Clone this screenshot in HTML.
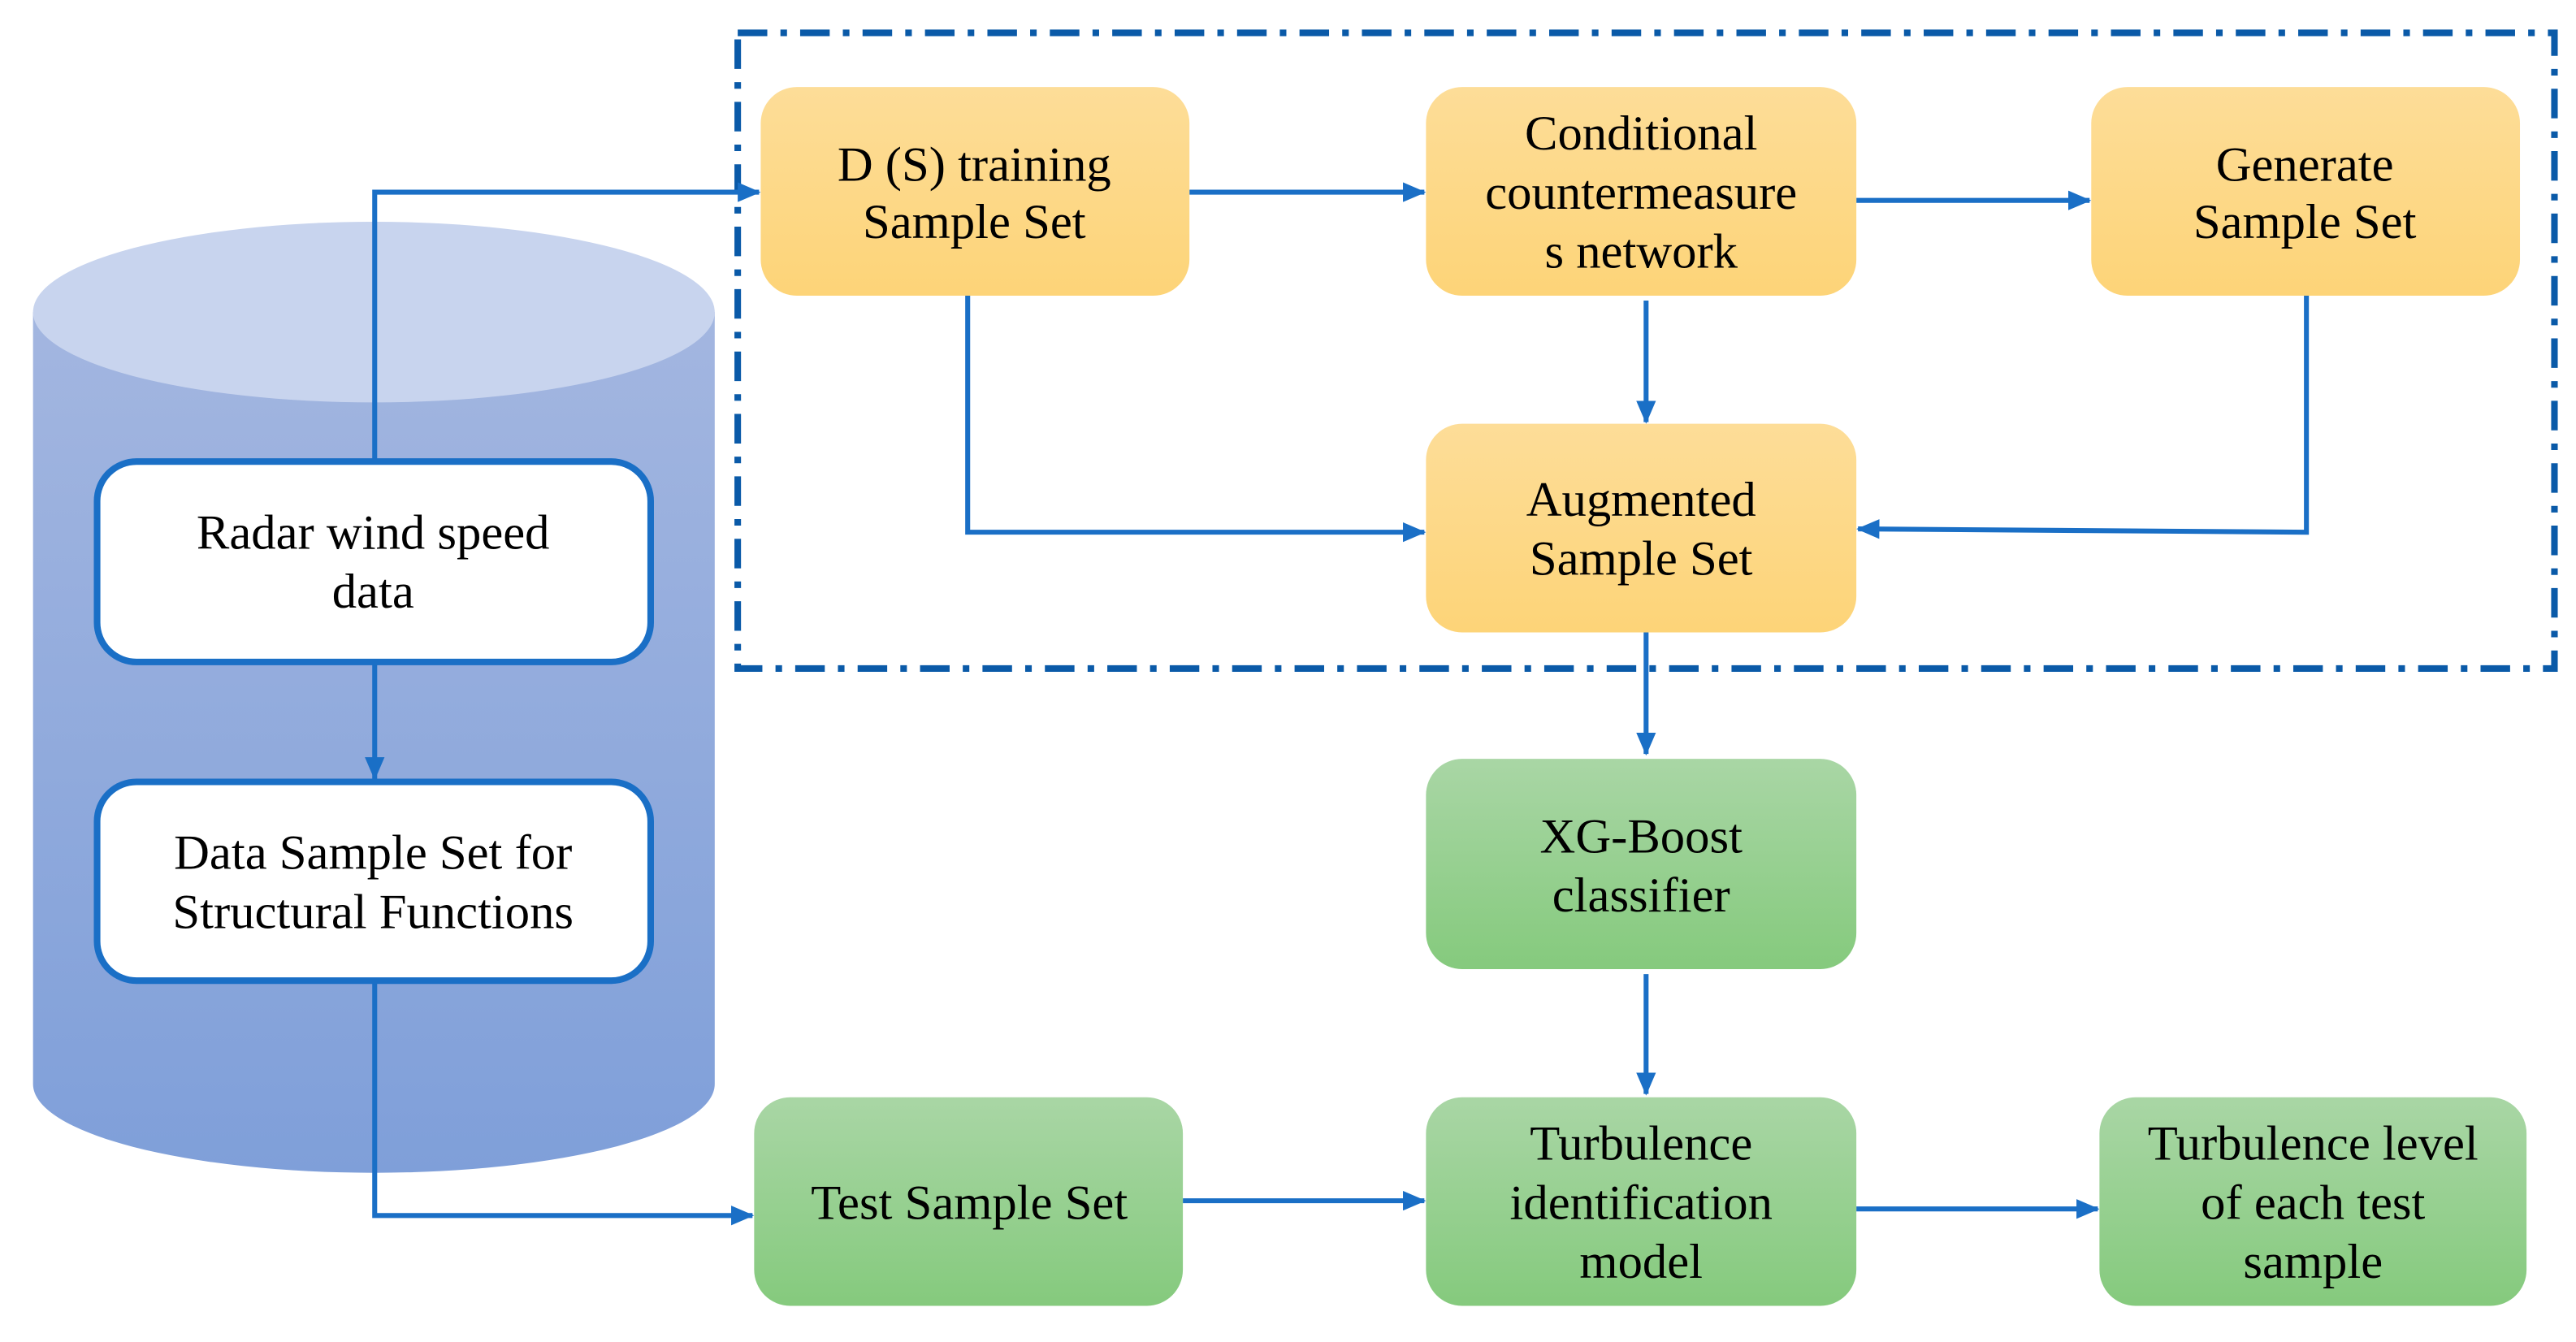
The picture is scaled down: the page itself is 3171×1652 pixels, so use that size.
<!DOCTYPE html>
<html><head><meta charset="utf-8"><style>html,body{margin:0;padding:0;background:#fff}svg{display:block}</style></head>
<body>
<svg width="3171" height="1652" viewBox="0 0 1568 817" xmlns="http://www.w3.org/2000/svg" font-family="'Liberation Serif', serif" font-size="30" text-anchor="middle">
<defs>
<linearGradient id="cyl" x1="0" y1="0" x2="0" y2="1"><stop offset="0" stop-color="#a3b6e0"/><stop offset="1" stop-color="#7f9fd9"/></linearGradient>
<linearGradient id="or" x1="0" y1="0" x2="0" y2="1"><stop offset="0" stop-color="#fddd98"/><stop offset="1" stop-color="#fdd478"/></linearGradient>
<linearGradient id="gr" x1="0" y1="0" x2="0" y2="1"><stop offset="0" stop-color="#a9d6a5"/><stop offset="1" stop-color="#85ca7d"/></linearGradient>
<marker id="ah" markerWidth="14" markerHeight="12" refX="13" refY="6" orient="auto" markerUnits="userSpaceOnUse"><path d="M0,0 L14,6 L0,12 z" fill="#1a6fc6"/></marker>
</defs>
<path d="M20,190 L20,660 A207.5,54 0 0 0 435,660 L435,190 Z" fill="url(#cyl)"/>
<ellipse cx="227.5" cy="190" rx="207.5" ry="55" fill="#c8d4ee"/>
<rect x="449" y="20" width="1106" height="387" fill="none" stroke="#0a5aa8" stroke-width="4" stroke-dasharray="18,8,4,8"/>
<g stroke="#1a6fc6" stroke-width="3" fill="none" marker-end="url(#ah)">
<path d="M228,281 L228,117 L462,117"/>
<path d="M724,117 L867,117"/>
<path d="M1130,122 L1272,122"/>
<path d="M1002,183 L1002,257"/>
<path d="M589,180 L589,324 L867,324"/>
<path d="M1404,180 L1404,324 L1131,322"/>
<path d="M1002,385 L1002,459"/>
<path d="M1002,593 L1002,666"/>
<path d="M228,403 L228,474"/>
<path d="M228,597 L228,740 L458,740"/>
<path d="M720,731 L867,731"/>
<path d="M1130,736 L1277,736"/>
</g>
<rect x="59" y="281" width="337" height="122" rx="24" fill="#fff" stroke="#1a6fc6" stroke-width="4"/>
<rect x="59" y="476" width="337" height="121" rx="24" fill="#fff" stroke="#1a6fc6" stroke-width="4"/>
<rect x="463" y="53" width="261" height="127" rx="22" fill="url(#or)"/>
<rect x="868" y="53" width="262" height="127" rx="22" fill="url(#or)"/>
<rect x="1273" y="53" width="261" height="127" rx="22" fill="url(#or)"/>
<rect x="868" y="258" width="262" height="127" rx="22" fill="url(#or)"/>
<rect x="868" y="462" width="262" height="128" rx="22" fill="url(#gr)"/>
<rect x="459" y="668" width="261" height="127" rx="22" fill="url(#gr)"/>
<rect x="868" y="668" width="262" height="127" rx="22" fill="url(#gr)"/>
<rect x="1278" y="668" width="260" height="127" rx="22" fill="url(#gr)"/>
<g fill="#000">
<text x="227" y="334">Radar wind speed</text><text x="227" y="370">data</text>
<text x="227" y="529">Data Sample Set for</text><text x="227" y="565">Structural Functions</text>
<text x="593" y="110">D (S) training</text><text x="593" y="145">Sample Set</text>
<text x="999" y="91">Conditional</text><text x="999" y="127">countermeasure</text><text x="999" y="163">s network</text>
<text x="1403" y="110">Generate</text><text x="1403" y="145">Sample Set</text>
<text x="999" y="314">Augmented</text><text x="999" y="350">Sample Set</text>
<text x="999" y="519">XG-Boost</text><text x="999" y="555">classifier</text>
<text x="590" y="742">Test Sample Set</text>
<text x="999" y="706">Turbulence</text><text x="999" y="742">identification</text><text x="999" y="778">model</text>
<text x="1408" y="706">Turbulence level</text><text x="1408" y="742">of each test</text><text x="1408" y="778">sample</text>
</g>
</svg>
</body></html>
